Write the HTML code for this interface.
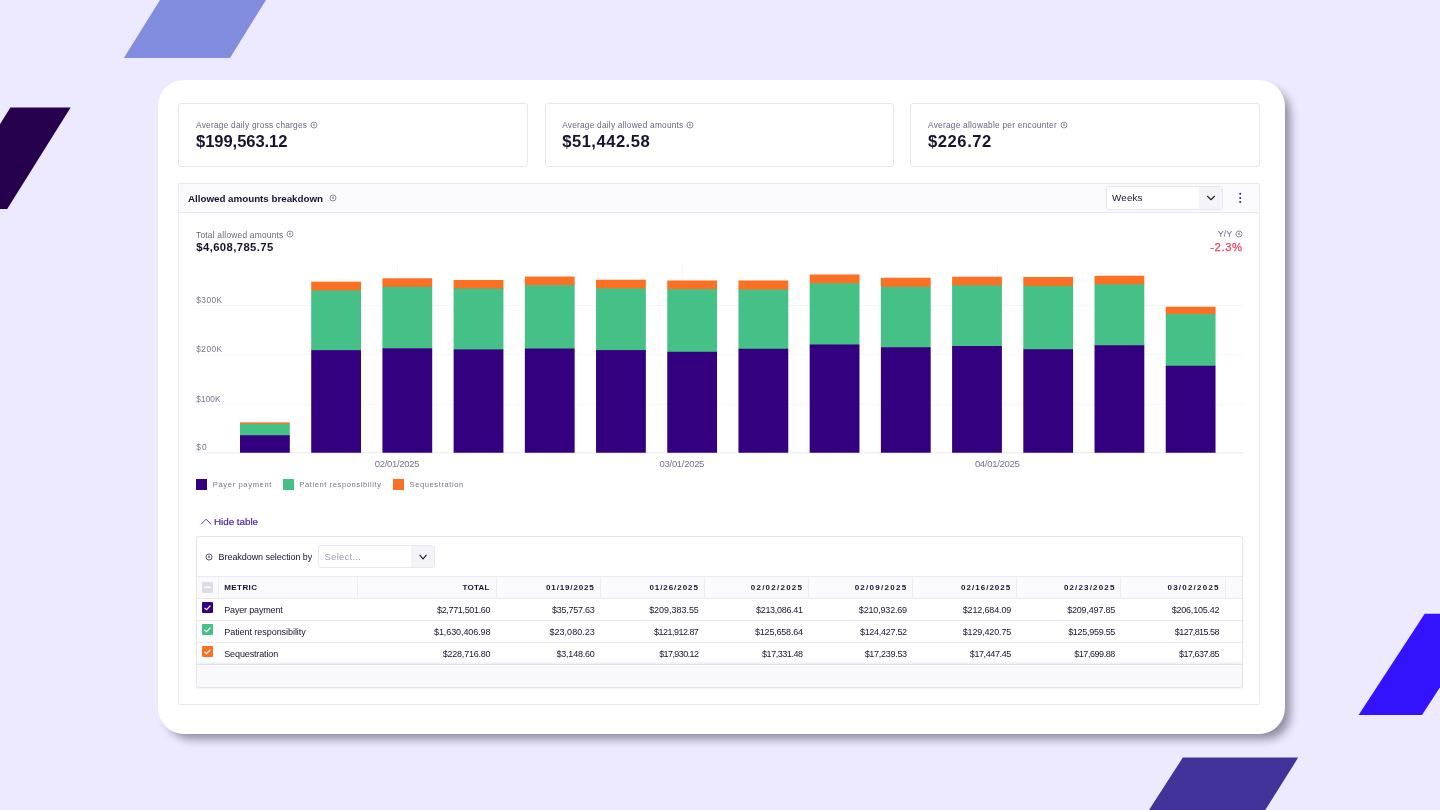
<!DOCTYPE html>
<html lang="en">
<head>
<meta charset="utf-8">
<title>Allowed amounts breakdown</title>
<style>
html,body{margin:0;padding:0}
body{width:1440px;height:810px;overflow:hidden;position:relative;background:#ede9fe;font-family:"Liberation Sans",Arial,sans-serif}
.abs{position:absolute}
.t{position:absolute;white-space:pre;line-height:1}
.card{position:absolute;left:157.6px;top:79.7px;width:1127.8px;height:654.2px;background:#fff;border-radius:26px;box-shadow:7px 7px 10px -2px rgba(10,8,28,.42)}
.kpi{position:absolute;top:103px;height:64px;width:350px;box-sizing:border-box;border:1px solid #e7e6ef;border-radius:3px;background:#fff}
.panel{position:absolute;left:178px;top:183px;width:1082px;height:522px;box-sizing:border-box;border:1px solid #e9e8f0;border-radius:2px;background:#fff}
.phead{position:absolute;left:0;top:0;right:0;height:28px;background:#fafafd;border-bottom:1px solid #e7e6ef}
.sel{position:absolute;box-sizing:border-box;border:1px solid #e8e7ef;border-radius:3px;background:#fff;overflow:hidden}
.sel i{position:absolute;right:0;top:0;bottom:0;background:#f3f3f8}
.tbl{position:absolute;left:196px;top:536px;width:1047px;height:152px;box-sizing:border-box;border:1px solid #e5e4ed;border-radius:3px;background:#fff;box-shadow:0 1px 2px rgba(30,20,60,.06);overflow:hidden}
.row{position:absolute;left:0;right:0;height:22px;border-top:1px solid #eae9f1;box-sizing:border-box}
.vd{position:absolute;top:576px;width:1px;height:22px;background:#edecf3}
.cb{position:absolute;width:11px;height:11px;border-radius:1px;display:block}
.cb svg{display:block}
.sq{position:absolute;top:479.2px;width:10.8px;height:10.8px}
</style>
</head>
<body>
<svg class="abs" width="1440" height="810" viewBox="0 0 1440 810" style="left:0;top:0">
<polygon points="160,0 266,0 230,58 123.8,58" fill="#838de0"/>
<polygon points="10.4,107.6 70.6,107.6 7.2,209 -53,209" fill="#26004d"/>
<polygon points="1424.7,613.7 1488.1,613.7 1422,714.9 1358.6,714.9" fill="#3312fe"/>
<polygon points="1182.8,757.6 1298.2,757.6 1264,812 1147.7,812" fill="#42339b"/>
</svg>
<div class="card"></div>
<div class="kpi" style="left:178px"></div>
<div class="kpi" style="left:545px;width:349px"></div>
<div class="kpi" style="left:910px"></div>
<div class="panel"><div class="phead"></div></div>
<div class="sel" style="left:1106px;top:186px;width:117px;height:24px"><i style="width:23px"></i></div>
<svg class="abs" style="left:1205.8px;top:194px" width="10" height="8" viewBox="0 0 10 8"><path d="M1.2 2 L5 5.7 L8.8 2" fill="none" stroke="#1a172e" stroke-width="1.05"/></svg>
<svg class="abs" style="left:1237.5px;top:191px" width="4" height="14" viewBox="0 0 4 14"><circle cx="2.2" cy="2.7" r="1" fill="#3d12a3"/><circle cx="2.2" cy="7" r="1" fill="#3d12a3"/><circle cx="2.2" cy="11.1" r="1" fill="#3d12a3"/></svg>

<svg class="abs" width="1440" height="810" viewBox="0 0 1440 810" style="left:0;top:0">
<rect x="196" y="305.0" width="1047" height="1" fill="#f5f5f9"/>
<rect x="196" y="353.75" width="1047" height="1" fill="#f5f5f9"/>
<rect x="196" y="403.75" width="1047" height="1" fill="#f5f5f9"/>
<rect x="397.0" y="263" width="1" height="194" fill="#f5f5f9"/>
<rect x="681.75" y="263" width="1" height="194" fill="#f5f5f9"/>
<rect x="997.0" y="263" width="1" height="194" fill="#f5f5f9"/>
<rect x="196" y="452.25" width="1047" height="1" fill="#ececf2"/>
<rect x="240.00" y="422.38" width="49.8" height="2.24" fill="#fb7023"/>
<rect x="240.00" y="423.92" width="49.8" height="12.01" fill="#45c086"/>
<rect x="240.00" y="435.23" width="49.8" height="17.52" fill="#33017f"/>
<rect x="311.21" y="281.63" width="49.8" height="9.49" fill="#fb7023"/>
<rect x="311.21" y="290.41" width="49.8" height="60.44" fill="#45c086"/>
<rect x="311.21" y="350.15" width="49.8" height="102.60" fill="#33017f"/>
<rect x="382.42" y="278.27" width="49.8" height="9.19" fill="#fb7023"/>
<rect x="382.42" y="286.76" width="49.8" height="62.27" fill="#45c086"/>
<rect x="382.42" y="348.34" width="49.8" height="104.41" fill="#33017f"/>
<rect x="453.63" y="279.98" width="49.8" height="9.15" fill="#fb7023"/>
<rect x="453.63" y="288.42" width="49.8" height="61.67" fill="#45c086"/>
<rect x="453.63" y="349.39" width="49.8" height="103.36" fill="#33017f"/>
<rect x="524.84" y="276.57" width="49.8" height="9.25" fill="#fb7023"/>
<rect x="524.84" y="285.12" width="49.8" height="64.12" fill="#45c086"/>
<rect x="524.84" y="348.53" width="49.8" height="104.22" fill="#33017f"/>
<rect x="596.05" y="279.70" width="49.8" height="9.37" fill="#fb7023"/>
<rect x="596.05" y="288.38" width="49.8" height="62.42" fill="#45c086"/>
<rect x="596.05" y="350.10" width="49.8" height="102.65" fill="#33017f"/>
<rect x="667.26" y="280.49" width="49.8" height="9.34" fill="#fb7023"/>
<rect x="667.26" y="289.13" width="49.8" height="63.33" fill="#45c086"/>
<rect x="667.26" y="351.76" width="49.8" height="100.99" fill="#33017f"/>
<rect x="738.47" y="280.50" width="49.8" height="9.70" fill="#fb7023"/>
<rect x="738.47" y="289.50" width="49.8" height="59.95" fill="#45c086"/>
<rect x="738.47" y="348.75" width="49.8" height="104.00" fill="#33017f"/>
<rect x="809.68" y="274.50" width="49.8" height="9.45" fill="#fb7023"/>
<rect x="809.68" y="283.25" width="49.8" height="61.95" fill="#45c086"/>
<rect x="809.68" y="344.50" width="49.8" height="108.25" fill="#33017f"/>
<rect x="880.89" y="277.75" width="49.8" height="9.70" fill="#fb7023"/>
<rect x="880.89" y="286.75" width="49.8" height="61.20" fill="#45c086"/>
<rect x="880.89" y="347.25" width="49.8" height="105.50" fill="#33017f"/>
<rect x="952.10" y="276.75" width="49.8" height="9.20" fill="#fb7023"/>
<rect x="952.10" y="285.25" width="49.8" height="61.45" fill="#45c086"/>
<rect x="952.10" y="346.00" width="49.8" height="106.75" fill="#33017f"/>
<rect x="1023.31" y="277.00" width="49.8" height="9.70" fill="#fb7023"/>
<rect x="1023.31" y="286.00" width="49.8" height="63.95" fill="#45c086"/>
<rect x="1023.31" y="349.25" width="49.8" height="103.50" fill="#33017f"/>
<rect x="1094.52" y="275.75" width="49.8" height="9.20" fill="#fb7023"/>
<rect x="1094.52" y="284.25" width="49.8" height="61.70" fill="#45c086"/>
<rect x="1094.52" y="345.25" width="49.8" height="107.50" fill="#33017f"/>
<rect x="1165.73" y="306.75" width="49.8" height="7.95" fill="#fb7023"/>
<rect x="1165.73" y="314.00" width="49.8" height="52.45" fill="#45c086"/>
<rect x="1165.73" y="365.75" width="49.8" height="87.00" fill="#33017f"/>
</svg>
<span class="sq" style="left:196px;background:#33017f"></span><span class="sq" style="left:283.2px;background:#45c086"></span><span class="sq" style="left:392.5px;width:11.2px;background:#fb7023"></span>
<svg class="abs" style="left:199.5px;top:517px" width="12" height="9" viewBox="0 0 12 9"><path d="M1.1 7.3 L6.1 2.2 L11.1 7.3" fill="none" stroke="#4c22b4" stroke-width="0.9"/></svg>
<div class="tbl">
<div class="row" style="top:39px;height:22px;background:#fafafd"></div>
<div class="row" style="top:61px"></div><div class="row" style="top:83px"></div><div class="row" style="top:105px"></div>
<div class="row" style="top:127px;height:24px;background:#f9f9fc;border-top:1px solid #e0dfe9;box-shadow:0 -1px 3px rgba(30,20,60,.10)"></div>
</div>
<span class="vd" style="left:218px"></span>
<span class="vd" style="left:357px"></span>
<span class="vd" style="left:496px"></span>
<span class="vd" style="left:600px"></span>
<span class="vd" style="left:704px"></span>
<span class="vd" style="left:808px"></span>
<span class="vd" style="left:912px"></span>
<span class="vd" style="left:1016px"></span>
<span class="vd" style="left:1120px"></span>
<span class="vd" style="left:1225px"></span>
<div class="sel" style="left:318px;top:545px;width:117px;height:23px"><i style="width:23px"></i></div>
<svg class="abs" style="left:418.3px;top:553px" width="10" height="8" viewBox="0 0 10 8"><path d="M1.6 1.9 L5 5.9 L8.5 1.9" fill="none" stroke="#1a172e" stroke-width="1.05"/></svg>
<span class="cb" style="left:201.6px;top:582.1px;width:11.3px;height:10.7px;background:#dddde7"><svg width="11.3" height="10.7" viewBox="0 0 11.3 10.7"><rect x="2.4" y="4.6" width="6.6" height="1.3" fill="#fff"/></svg></span>
<span class="cb" style="left:202px;top:602.1px;background:#33017f"><svg width="11" height="11" viewBox="0 0 11 11"><path d="M2.5 5.9 L4.6 7.7 L8.4 3.6" fill="none" stroke="#fff" stroke-width="1.2"/></svg></span>
<span class="cb" style="left:202px;top:624.3px;background:#45c086"><svg width="11" height="11" viewBox="0 0 11 11"><path d="M2.5 5.9 L4.6 7.7 L8.4 3.6" fill="none" stroke="#fff" stroke-width="1.2"/></svg></span>
<span class="cb" style="left:202px;top:646.3px;background:#fb7023"><svg width="11" height="11" viewBox="0 0 11 11"><path d="M2.5 5.9 L4.6 7.7 L8.4 3.6" fill="none" stroke="#fff" stroke-width="1.2"/></svg></span>
<svg class="abs" style="left:309.70px;top:120.60px" width="8" height="8" viewBox="0 0 8 8"><circle cx="4" cy="4" r="3.0" fill="none" stroke="#5f5c74" stroke-width="0.7"/><rect x="3.6" y="2.0" width="0.8" height="1.2" fill="#5f5c74" opacity="0.5"/><rect x="3.5" y="3.0" width="1" height="2.1" fill="#5f5c74"/></svg>
<svg class="abs" style="left:686.20px;top:120.70px" width="8" height="8" viewBox="0 0 8 8"><circle cx="4" cy="4" r="3.0" fill="none" stroke="#5f5c74" stroke-width="0.7"/><rect x="3.6" y="2.0" width="0.8" height="1.2" fill="#5f5c74" opacity="0.5"/><rect x="3.5" y="3.0" width="1" height="2.1" fill="#5f5c74"/></svg>
<svg class="abs" style="left:1059.70px;top:120.70px" width="8" height="8" viewBox="0 0 8 8"><circle cx="4" cy="4" r="3.0" fill="none" stroke="#5f5c74" stroke-width="0.7"/><rect x="3.6" y="2.0" width="0.8" height="1.2" fill="#5f5c74" opacity="0.5"/><rect x="3.5" y="3.0" width="1" height="2.1" fill="#5f5c74"/></svg>
<svg class="abs" style="left:329.30px;top:193.50px" width="8" height="8" viewBox="0 0 8 8"><circle cx="4" cy="4" r="3.0" fill="none" stroke="#5f5c74" stroke-width="0.7"/><rect x="3.6" y="2.0" width="0.8" height="1.2" fill="#5f5c74" opacity="0.5"/><rect x="3.5" y="3.0" width="1" height="2.1" fill="#5f5c74"/></svg>
<svg class="abs" style="left:286.30px;top:229.80px" width="8" height="8" viewBox="0 0 8 8"><circle cx="4" cy="4" r="3.0" fill="none" stroke="#5f5c74" stroke-width="0.7"/><rect x="3.6" y="2.0" width="0.8" height="1.2" fill="#5f5c74" opacity="0.5"/><rect x="3.5" y="3.0" width="1" height="2.1" fill="#5f5c74"/></svg>
<svg class="abs" style="left:1234.50px;top:229.80px" width="8" height="8" viewBox="0 0 8 8"><circle cx="4" cy="4" r="3.0" fill="none" stroke="#5f5c74" stroke-width="0.7"/><rect x="3.6" y="2.0" width="0.8" height="1.2" fill="#5f5c74" opacity="0.5"/><rect x="3.5" y="3.0" width="1" height="2.1" fill="#5f5c74"/></svg>
<svg class="abs" style="left:204.70px;top:553.20px" width="8" height="8" viewBox="0 0 8 8"><circle cx="4" cy="4" r="3.05" fill="none" stroke="#24203c" stroke-width="0.75"/><rect x="3.6" y="2.0" width="0.8" height="1.2" fill="#24203c" opacity="0.5"/><rect x="3.5" y="3.0" width="1" height="2.1" fill="#24203c"/></svg>
<span class="t" style="top:120.97px;font-size:8.3px;color:#68657d;letter-spacing:0.248px;left:196.00px;">Average daily gross charges</span>
<span class="t" style="top:120.97px;font-size:8.3px;color:#68657d;letter-spacing:0.228px;left:562.20px;">Average daily allowed amounts</span>
<span class="t" style="top:120.97px;font-size:8.3px;color:#68657d;letter-spacing:0.251px;left:928.00px;">Average allowable per encounter</span>
<span class="t" style="top:134.15px;font-size:16.6px;font-weight:700;color:#17142f;letter-spacing:-0.078px;left:196.00px;">$199,563.12</span>
<span class="t" style="top:134.15px;font-size:16.6px;font-weight:700;color:#17142f;letter-spacing:0.493px;left:562.20px;">$51,442.58</span>
<span class="t" style="top:134.15px;font-size:16.6px;font-weight:700;color:#17142f;letter-spacing:0.553px;left:928.00px;">$226.72</span>
<span class="t" style="top:194.20px;font-size:9.8px;font-weight:700;color:#17142f;letter-spacing:-0.023px;left:188.00px;">Allowed amounts breakdown</span>
<span class="t" style="top:193.40px;font-size:9.8px;color:#17142f;letter-spacing:0.184px;left:1112.00px;">Weeks</span>
<span class="t" style="top:230.59px;font-size:8.4px;color:#68657d;letter-spacing:0.221px;left:196.00px;">Total allowed amounts</span>
<span class="t" style="top:241.63px;font-size:11.3px;font-weight:700;color:#17142f;letter-spacing:0.396px;left:196.30px;">$4,608,785.75</span>
<span class="t" style="top:230.39px;font-size:8.4px;color:#68657d;letter-spacing:0.25px;right:207.75px;">Y/Y</span>
<span class="t" style="top:241.63px;font-size:11.3px;color:#ee3d5b;letter-spacing:0.546px;right:197.45px;-webkit-text-stroke:0.25px #ee3d5b;">-2.3%</span>
<span class="t" style="top:295.97px;font-size:8.3px;color:#77748c;letter-spacing:0.425px;left:196.30px;">$300K</span>
<span class="t" style="top:344.97px;font-size:8.3px;color:#77748c;letter-spacing:0.425px;left:196.30px;">$200K</span>
<span class="t" style="top:394.97px;font-size:8.3px;color:#77748c;letter-spacing:0.05px;left:196.30px;">$100K</span>
<span class="t" style="top:443.07px;font-size:8.3px;color:#77748c;letter-spacing:0.966px;left:196.30px;">$0</span>
<span class="t" style="top:459.36px;font-size:9.5px;color:#77748c;letter-spacing:-0.305px;left:374.70px;">02/01/2025</span>
<span class="t" style="top:459.36px;font-size:9.5px;color:#77748c;letter-spacing:-0.305px;left:659.60px;">03/01/2025</span>
<span class="t" style="top:459.36px;font-size:9.5px;color:#77748c;letter-spacing:-0.305px;left:974.90px;">04/01/2025</span>
<span class="t" style="top:480.87px;font-size:7.6px;color:#77748c;letter-spacing:0.627px;left:212.80px;">Payer payment</span>
<span class="t" style="top:480.87px;font-size:7.6px;color:#77748c;letter-spacing:0.578px;left:299.30px;">Patient responsibility</span>
<span class="t" style="top:480.87px;font-size:7.6px;color:#77748c;letter-spacing:0.577px;left:409.50px;">Sequestration</span>
<span class="t" style="top:517.10px;font-size:9.8px;color:#4c22b4;letter-spacing:-0.014px;left:214.00px;-webkit-text-stroke:0.2px #4c22b4;">Hide table</span>
<span class="t" style="top:552.78px;font-size:9.0px;color:#17142f;letter-spacing:-0.065px;left:218.60px;">Breakdown selection by</span>
<span class="t" style="top:552.44px;font-size:9.4px;color:#9d9bb0;letter-spacing:0.291px;left:324.60px;">Select...</span>
<span class="t" style="top:583.93px;font-size:8.0px;font-weight:700;color:#17142f;letter-spacing:0.416px;left:224.25px;">METRIC</span>
<span class="t" style="top:583.93px;font-size:8.0px;font-weight:700;color:#17142f;letter-spacing:0.27px;right:950.23px;">TOTAL</span>
<span class="t" style="top:583.93px;font-size:8.0px;font-weight:700;color:#17142f;letter-spacing:0.856px;right:845.39px;">01/19/2025</span>
<span class="t" style="top:583.93px;font-size:8.0px;font-weight:700;color:#17142f;letter-spacing:0.939px;right:741.19px;">01/26/2025</span>
<span class="t" style="top:583.93px;font-size:8.0px;font-weight:700;color:#17142f;letter-spacing:1.245px;right:636.75px;">02/02/2025</span>
<span class="t" style="top:583.93px;font-size:8.0px;font-weight:700;color:#17142f;letter-spacing:1.273px;right:532.60px;">02/09/2025</span>
<span class="t" style="top:583.93px;font-size:8.0px;font-weight:700;color:#17142f;letter-spacing:1.023px;right:428.73px;">02/16/2025</span>
<span class="t" style="top:583.93px;font-size:8.0px;font-weight:700;color:#17142f;letter-spacing:1.161px;right:324.46px;">02/23/2025</span>
<span class="t" style="top:583.93px;font-size:8.0px;font-weight:700;color:#17142f;letter-spacing:1.217px;right:220.28px;">03/02/2025</span>
<span class="t" style="top:605.98px;font-size:9.0px;color:#17142f;letter-spacing:-0.169px;left:224.25px;">Payer payment</span>
<span class="t" style="top:605.98px;font-size:9.0px;color:#17142f;letter-spacing:-0.339px;right:949.84px;">$2,771,501.60</span>
<span class="t" style="top:605.98px;font-size:9.0px;color:#17142f;letter-spacing:-0.255px;right:845.50px;">$35,757.63</span>
<span class="t" style="top:605.98px;font-size:9.0px;color:#17142f;letter-spacing:-0.031px;right:741.16px;">$209,383.55</span>
<span class="t" style="top:605.98px;font-size:9.0px;color:#17142f;letter-spacing:-0.306px;right:637.31px;">$213,086.41</span>
<span class="t" style="top:605.98px;font-size:9.0px;color:#17142f;letter-spacing:-0.179px;right:533.05px;">$210,932.69</span>
<span class="t" style="top:605.98px;font-size:9.0px;color:#17142f;letter-spacing:-0.156px;right:428.91px;">$212,684.09</span>
<span class="t" style="top:605.98px;font-size:9.0px;color:#17142f;letter-spacing:-0.181px;right:324.81px;">$209,497.85</span>
<span class="t" style="top:605.98px;font-size:9.0px;color:#17142f;letter-spacing:-0.231px;right:220.73px;">$206,105.42</span>
<span class="t" style="top:627.98px;font-size:9.0px;color:#17142f;letter-spacing:-0.05px;left:224.25px;">Patient responsibility</span>
<span class="t" style="top:627.98px;font-size:9.0px;color:#17142f;letter-spacing:-0.089px;right:949.59px;">$1,630,406.98</span>
<span class="t" style="top:627.98px;font-size:9.0px;color:#17142f;letter-spacing:0.023px;right:845.23px;">$23,080.23</span>
<span class="t" style="top:627.98px;font-size:9.0px;color:#17142f;letter-spacing:-0.506px;right:741.63px;">$121,912.87</span>
<span class="t" style="top:627.98px;font-size:9.0px;color:#17142f;letter-spacing:-0.206px;right:637.21px;">$125,658.64</span>
<span class="t" style="top:627.98px;font-size:9.0px;color:#17142f;letter-spacing:-0.284px;right:533.16px;">$124,427.52</span>
<span class="t" style="top:627.98px;font-size:9.0px;color:#17142f;letter-spacing:-0.156px;right:428.91px;">$129,420.75</span>
<span class="t" style="top:627.98px;font-size:9.0px;color:#17142f;letter-spacing:-0.281px;right:324.91px;">$125,959.55</span>
<span class="t" style="top:627.98px;font-size:9.0px;color:#17142f;letter-spacing:-0.531px;right:221.03px;">$127,815.58</span>
<span class="t" style="top:649.98px;font-size:9.0px;color:#17142f;letter-spacing:-0.129px;left:224.25px;">Sequestration</span>
<span class="t" style="top:649.98px;font-size:9.0px;color:#17142f;letter-spacing:-0.231px;right:949.73px;">$228,716.80</span>
<span class="t" style="top:649.98px;font-size:9.0px;color:#17142f;letter-spacing:-0.225px;right:845.48px;">$3,148.60</span>
<span class="t" style="top:649.98px;font-size:9.0px;color:#17142f;letter-spacing:-0.589px;right:741.71px;">$17,930.12</span>
<span class="t" style="top:649.98px;font-size:9.0px;color:#17142f;letter-spacing:-0.45px;right:637.45px;">$17,331.48</span>
<span class="t" style="top:649.98px;font-size:9.0px;color:#17142f;letter-spacing:-0.284px;right:533.16px;">$17,239.53</span>
<span class="t" style="top:649.98px;font-size:9.0px;color:#17142f;letter-spacing:-0.394px;right:429.14px;">$17,447.45</span>
<span class="t" style="top:649.98px;font-size:9.0px;color:#17142f;letter-spacing:-0.422px;right:325.05px;">$17,699.88</span>
<span class="t" style="top:649.98px;font-size:9.0px;color:#17142f;letter-spacing:-0.505px;right:221.00px;">$17,637.85</span>
</body>
</html>
